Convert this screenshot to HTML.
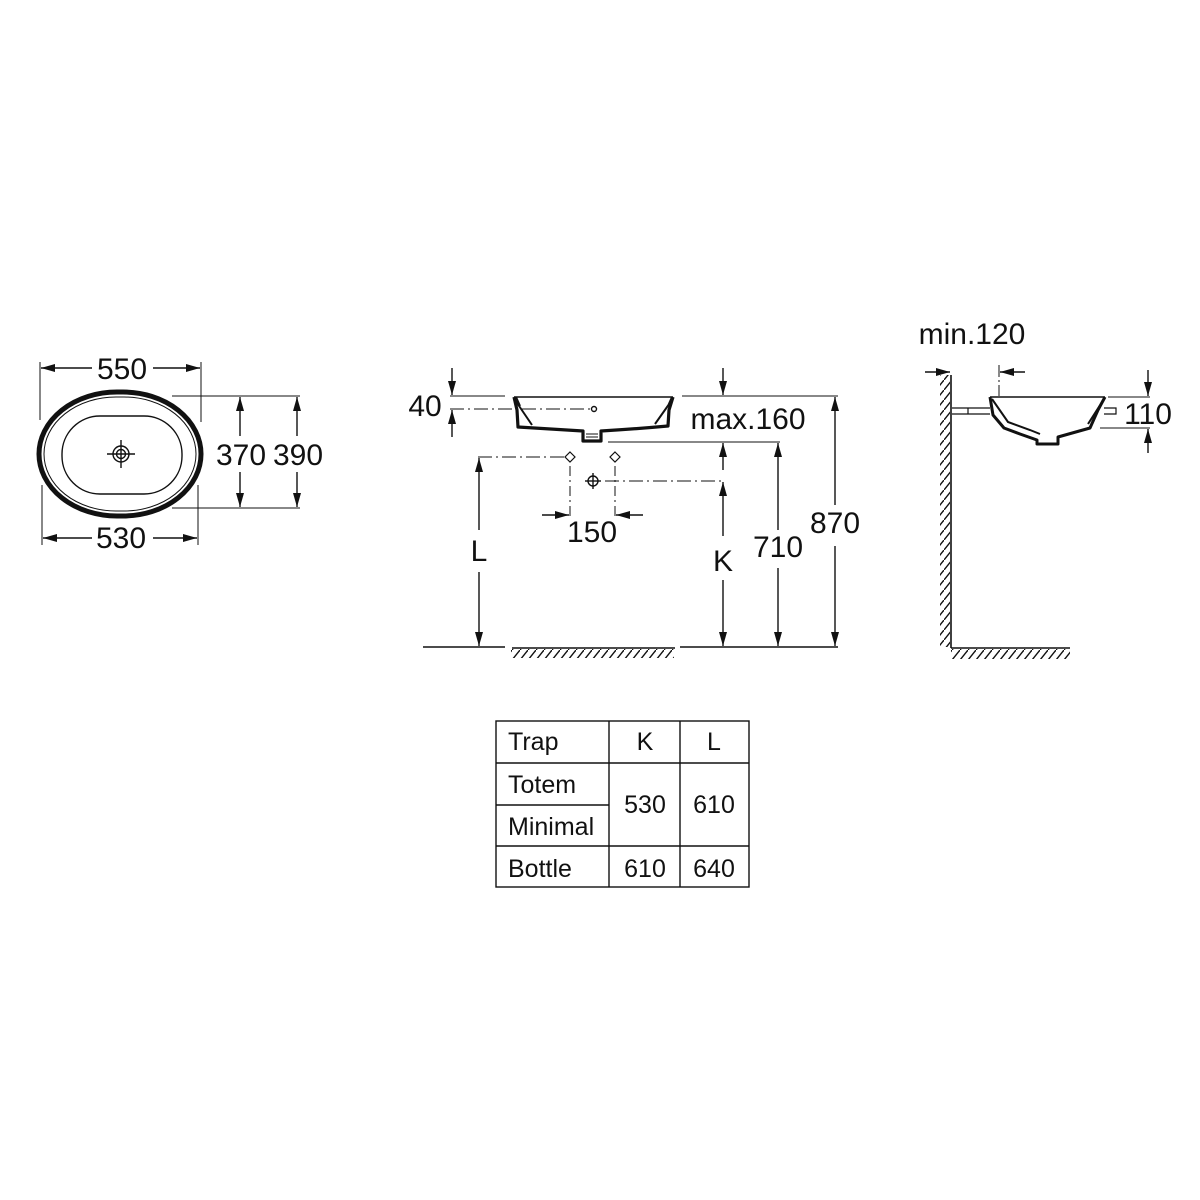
<!DOCTYPE html>
<html><head><meta charset="utf-8"><style>
html,body{margin:0;padding:0;background:#fff}
svg{display:block}
text{font-family:"Liberation Sans",Arial,sans-serif;fill:#111}
</style></head><body>
<svg width="1200" height="1200" viewBox="0 0 1200 1200" xmlns="http://www.w3.org/2000/svg">
<defs>
<marker id="a" viewBox="0 0 14 8" refX="14" refY="4" markerWidth="14" markerHeight="8" markerUnits="userSpaceOnUse" orient="auto">
<path d="M0,0 L14,4 L0,8 Z" fill="#111"/></marker>
<pattern id="h" width="8" height="10" patternUnits="userSpaceOnUse">
<line x1="0" y1="10" x2="8" y2="0" stroke="#111" stroke-width="1.4"/></pattern>
</defs>
<g stroke="#111" fill="none" stroke-width="1.4">
<!-- TOP VIEW -->
<rect x="39" y="392" width="162" height="124" rx="78" ry="62" stroke-width="5"/>
<rect x="44" y="397" width="152" height="114" rx="72" ry="57" stroke-width="1"/>
<rect x="62" y="416" width="120" height="78" rx="38" ry="38" stroke-width="1.4"/>
<circle cx="121" cy="454" r="8"/><circle cx="121" cy="454" r="4.5"/>
<line x1="107" y1="454" x2="135" y2="454"/><line x1="121" y1="440" x2="121" y2="468"/>
<line x1="40" y1="362" x2="40" y2="420" stroke-width="1"/>
<line x1="201" y1="362" x2="201" y2="422" stroke-width="1"/>
<line x1="92" y1="368" x2="41" y2="368" marker-end="url(#a)"/>
<line x1="153" y1="368" x2="200" y2="368" marker-end="url(#a)"/>
<line x1="42" y1="485" x2="42" y2="545" stroke-width="1"/>
<line x1="198" y1="485" x2="198" y2="545" stroke-width="1"/>
<line x1="92" y1="538" x2="43" y2="538" marker-end="url(#a)"/>
<line x1="153" y1="538" x2="197" y2="538" marker-end="url(#a)"/>
<line x1="172" y1="396" x2="300" y2="396" stroke-width="1"/>
<line x1="172" y1="508" x2="300" y2="508" stroke-width="1"/>
<line x1="240" y1="436" x2="240" y2="397" marker-end="url(#a)"/>
<line x1="240" y1="472" x2="240" y2="507" marker-end="url(#a)"/>
<line x1="297" y1="436" x2="297" y2="397" marker-end="url(#a)"/>
<line x1="297" y1="472" x2="297" y2="507" marker-end="url(#a)"/>
<!-- FRONT VIEW -->
<line x1="514" y1="397" x2="673" y2="397" stroke-width="1.4"/>
<path d="M514,397 L517,410 L518,427 Q550,429 583,431 L583,441 L601,441 L601,431 Q635,429 668,426 L669,410 L673,397" stroke-width="3.2" stroke-linejoin="round"/>
<path d="M515,400 L532,425 M672,400 L655,424 M516,397 L520,406 M672,397 L668,406" stroke-width="2"/>
<path d="M586,434 H598 M586,437 H598" stroke-width="1"/>
<line x1="450" y1="396" x2="505" y2="396" stroke-width="1"/>
<line x1="682" y1="396" x2="838" y2="396" stroke-width="1"/>
<line x1="450" y1="409" x2="590" y2="409" stroke-width="1" stroke-dasharray="14,4,2,4"/>
<circle cx="594" cy="409" r="2.5"/>
<line x1="452" y1="368" x2="452" y2="395" marker-end="url(#a)"/>
<line x1="452" y1="437" x2="452" y2="410" marker-end="url(#a)"/>
<line x1="723" y1="368" x2="723" y2="395" marker-end="url(#a)"/>
<line x1="608" y1="442" x2="780" y2="442" stroke-width="1"/>
<line x1="723" y1="470" x2="723" y2="443" marker-end="url(#a)"/>
<line x1="778" y1="530" x2="778" y2="443" marker-end="url(#a)"/>
<line x1="778" y1="568" x2="778" y2="646" marker-end="url(#a)"/>
<line x1="835" y1="505" x2="835" y2="397" marker-end="url(#a)"/>
<line x1="835" y1="546" x2="835" y2="646" marker-end="url(#a)"/>
<line x1="478" y1="457" x2="566" y2="457" stroke-width="1" stroke-dasharray="14,4,2,4"/>
<path d="M570,452 L575,457 L570,462 L565,457 Z" stroke-width="1.2"/>
<path d="M615,452 L620,457 L615,462 L610,457 Z" stroke-width="1.2"/>
<line x1="570" y1="466" x2="570" y2="520" stroke-width="1" stroke-dasharray="10,4,2,4"/>
<line x1="615" y1="466" x2="615" y2="520" stroke-width="1" stroke-dasharray="10,4,2,4"/>
<circle cx="593" cy="481" r="5"/><line x1="585" y1="481" x2="601" y2="481"/><line x1="593" y1="473" x2="593" y2="489"/>
<line x1="605" y1="481" x2="725" y2="481" stroke-width="1" stroke-dasharray="14,4,2,4"/>
<line x1="479" y1="530" x2="479" y2="458" marker-end="url(#a)"/>
<line x1="479" y1="572" x2="479" y2="646" marker-end="url(#a)"/>
<line x1="723" y1="536" x2="723" y2="482" marker-end="url(#a)"/>
<line x1="723" y1="580" x2="723" y2="646" marker-end="url(#a)"/>
<line x1="542" y1="515" x2="569" y2="515" marker-end="url(#a)"/>
<line x1="643" y1="515" x2="616" y2="515" marker-end="url(#a)"/>
<line x1="423" y1="647" x2="505" y2="647" stroke-width="1.4"/>
<line x1="512" y1="648" x2="675" y2="648" stroke-width="1.4"/>
<rect x="511" y="649" width="163" height="9" fill="url(#h)" stroke="none"/>
<line x1="680" y1="647" x2="838" y2="647" stroke-width="1.4"/>
<!-- SIDE VIEW -->
<line x1="951" y1="375" x2="951" y2="648" stroke-width="1.6"/>
<rect x="940" y="375" width="10" height="272" fill="url(#h)" stroke="none"/>
<line x1="951" y1="648" x2="1070" y2="648" stroke-width="1.6"/>
<rect x="951" y="649" width="119" height="10" fill="url(#h)" stroke="none"/>
<line x1="925" y1="372" x2="950" y2="372" marker-end="url(#a)"/>
<line x1="1025" y1="372" x2="1000" y2="372" marker-end="url(#a)"/>
<line x1="999" y1="365" x2="999" y2="396" stroke-width="1" stroke-dasharray="12,3,2,3"/>
<path d="M952,408 H990 M952,414 H990 M968,408 V414 M1104,408 H1116 V414 H1104" stroke-width="1.2"/>
<line x1="990" y1="397" x2="1105" y2="397" stroke-width="1.4"/>
<path d="M990,397 L993,415 L1004,428 L1020,434 L1037,440 L1037,444 L1058,444 L1058,437 L1090,428 L1098,410 L1105,397" stroke-width="3" stroke-linejoin="round"/>
<path d="M992,399 L1008,422 L1030,430 L1040,434 M1104,399 L1088,424" stroke-width="2"/>
<line x1="1108" y1="397" x2="1150" y2="397" stroke-width="1"/>
<line x1="1100" y1="428" x2="1150" y2="428" stroke-width="1"/>
<line x1="1148" y1="370" x2="1148" y2="396" marker-end="url(#a)"/>
<line x1="1148" y1="453" x2="1148" y2="429" marker-end="url(#a)"/>
<!-- TABLE -->
<rect x="496" y="721" width="253" height="166" stroke-width="1.4"/>
<line x1="609" y1="721" x2="609" y2="887"/>
<line x1="680" y1="721" x2="680" y2="887"/>
<line x1="496" y1="763" x2="749" y2="763"/>
<line x1="496" y1="805" x2="609" y2="805"/>
<line x1="496" y1="846" x2="749" y2="846"/>
</g>
<g font-size="30" text-anchor="middle">
<text x="122" y="379">550</text>
<text x="121" y="548">530</text>
<text x="241" y="465">370</text>
<text x="298" y="465">390</text>
<text x="425" y="416">40</text>
<text x="748" y="429">max.160</text>
<text x="592" y="542">150</text>
<text x="479" y="561">L</text>
<text x="723" y="571">K</text>
<text x="778" y="557">710</text>
<text x="835" y="533">870</text>
<text x="972" y="344">min.120</text>
<text x="1148" y="424">110</text>
</g>
<g font-size="25">
<text x="508" y="750">Trap</text>
<text x="508" y="793">Totem</text>
<text x="508" y="835">Minimal</text>
<text x="508" y="877">Bottle</text>
<g text-anchor="middle">
<text x="645" y="750">K</text><text x="714" y="750">L</text>
<text x="645" y="813">530</text><text x="714" y="813">610</text>
<text x="645" y="877">610</text><text x="714" y="877">640</text>
</g></g>
</svg>
</body></html>
